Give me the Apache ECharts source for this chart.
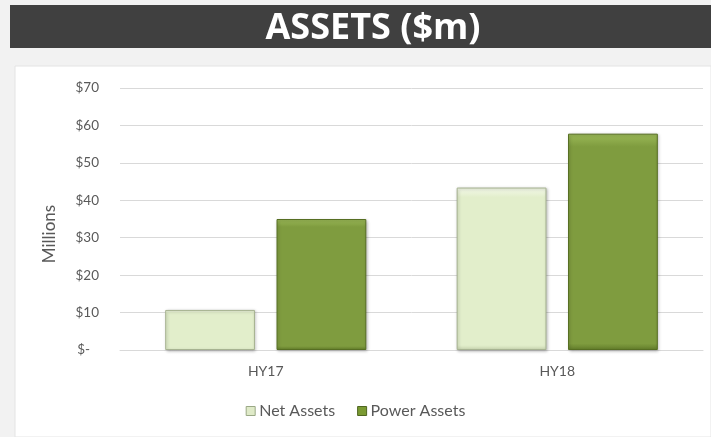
<!DOCTYPE html>
<html><head><meta charset="utf-8">
<script src="https://cdn.jsdelivr.net/npm/echarts@6/dist/echarts.min.js"></script>
<style>html,body{margin:0;padding:0;background:#f2f2f2;}#c{width:711px;height:437px;}</style>
</head><body><div id="c"></div>
<script>
var categories = ['HY17', 'HY18'];
var netAssets = [10.7, 43.4];
var powerAssets = [35.0, 57.8];
var yTicks = [0, 10, 20, 30, 40, 50, 60, 70];

var FONT = 'Lato';
var chart = echarts.init(document.getElementById('c'));
function grad(top, mid, bot) {
  return new echarts.graphic.LinearGradient(0, 0, 0, 1, [
    {offset: 0, color: top}, {offset: 0.06, color: mid}, {offset: 0.97, color: mid}, {offset: 1, color: bot}
  ]);
}
chart.setOption({
  backgroundColor: '#f2f2f2',
  animation: false,
  graphic: [
    {type: 'rect', z: 0, shape: {x: 10, y: 5, width: 701, height: 43}, style: {fill: '#404040'}},
    {type: 'rect', z: 0, shape: {x: 15, y: 66, width: 696, height: 371}, style: {fill: '#ffffff', stroke: '#e4e4e4', lineWidth: 1}},
    {type: 'text', z: 5, x: 50, y: 234, rotation: Math.PI / 2,
     style: {text: 'Millions', fill: '#595959', font: '17px ' + FONT, align: 'center', verticalAlign: 'middle'}}
  ],
  title: {
    text: 'ASSETS ($m)', left: 368, top: 6, textAlign: 'center',
    textStyle: {color: '#ffffff', fontSize: 36, fontWeight: 'bold', fontFamily: 'Open Sans'}
  },
  legend: {
    bottom: 13, left: 'center', itemWidth: 9, itemHeight: 9, itemGap: 22,
    textStyle: {color: '#595959', fontSize: 16, fontFamily: FONT, padding: [0, 0, 0, -1]},
    data: [
      {name: 'Net Assets', icon: 'rect', itemStyle: {color: '#dfeac8', borderColor: '#9aa886', borderWidth: 1}},
      {name: 'Power Assets', icon: 'rect', itemStyle: {color: '#7a9a32', borderColor: '#4f6620', borderWidth: 1}}
    ]
  },
  grid: {left: 120, right: 8, top: 88, bottom: 87},
  xAxis: {
    type: 'category', data: categories,
    axisLine: {show: true, lineStyle: {color: '#d9d9d9', width: 1}},
    axisTick: {show: false},
    axisLabel: {color: '#595959', fontSize: 14, fontFamily: FONT, margin: 14}
  },
  yAxis: {
    type: 'value', min: 0, max: 70, interval: 10,
    axisLine: {show: false}, axisTick: {show: false},
    splitLine: {lineStyle: {color: '#d9d9d9', width: 1}},
    axisLabel: {
      color: '#595959', fontSize: 13.5, fontFamily: FONT, margin: 21,
      formatter: function (v) { return v === 0 ? '{z|$-}' : '$' + v; },
      rich: {z: {color: '#595959', fontSize: 13.5, fontFamily: FONT, padding: [0, 9, 0, 0]}}
    }
  },
  series: [
    {
      name: 'Net Assets', type: 'bar', data: netAssets, barGap: '24%', barCategoryGap: '31%',
      itemStyle: {
        color: grad('#f4f9ea', '#e2eecb', '#c9d6b1'),
        borderColor: '#a7b391', borderWidth: 1,
        shadowColor: 'rgba(0,0,0,0.25)', shadowBlur: 3, shadowOffsetX: 1, shadowOffsetY: 1
      }
    },
    {
      name: 'Power Assets', type: 'bar', data: powerAssets,
      itemStyle: {
        color: grad('#9cba58', '#7f9c3f', '#627d2a'),
        borderColor: '#566e22', borderWidth: 1,
        shadowColor: 'rgba(0,0,0,0.25)', shadowBlur: 3, shadowOffsetX: 1, shadowOffsetY: 1
      }
    }
  ]
});
</script></body></html>
